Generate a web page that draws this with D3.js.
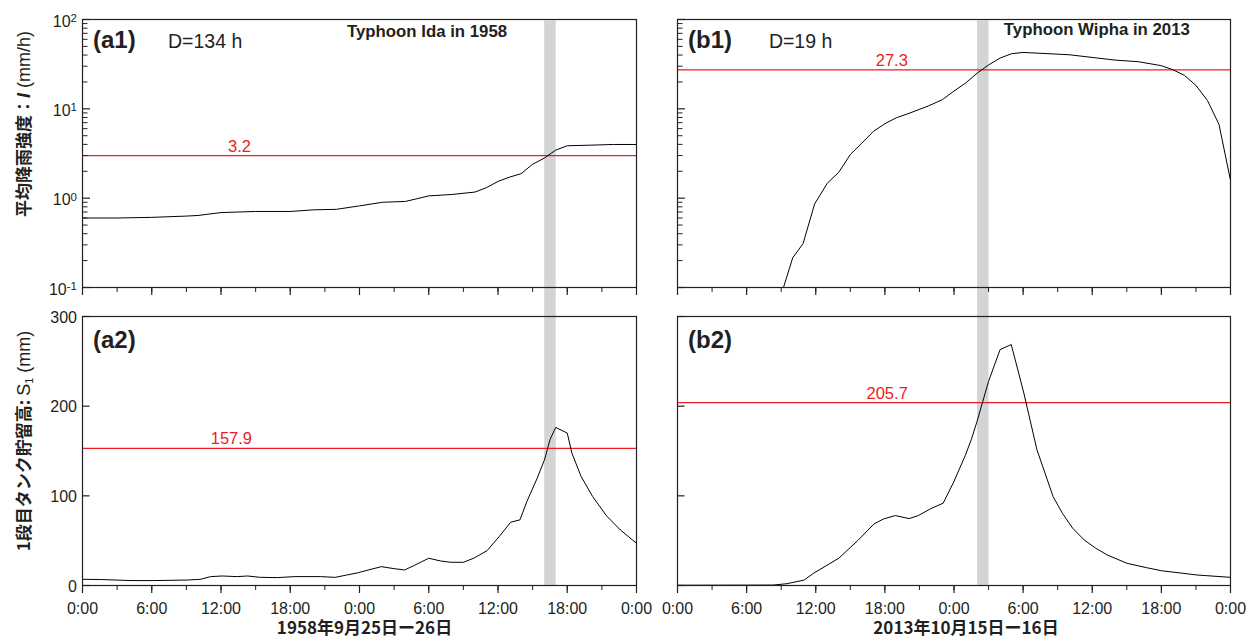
<!DOCTYPE html>
<html><head><meta charset="utf-8">
<script src="https://cdn.jsdelivr.net/npm/d3@7"></script>
<style>
body{margin:0;background:#fff;}
svg{display:block;font-family:"Liberation Sans",Arial,sans-serif;}
</style>
</head><body>
<svg id="chart" width="1250" height="639"></svg>
<script>
// ---------------- data ----------------
const hourMajorTicks = [0, 6, 12, 18, 24, 30, 36, 42, 48];
const hourMinorTicks = [0, 3, 6, 9, 12, 15, 18, 21, 24, 27, 30, 33, 36, 39, 42, 45, 48];
const hourTickLabels = ["0:00", "6:00", "12:00", "18:00", "0:00", "6:00", "12:00", "18:00", "0:00"];

const rainMajorTicks = [0.1, 1, 10, 100];
const rainTickExponents = ["-1", "0", "1", "2"];
const storageTicks = [0, 100, 200, 300];
const storageTickLabels = ["0", "100", "200", "300"];

// (a1) Typhoon Ida 1958, mean rainfall intensity (mm/h)
const a1Hours = [0, 3, 6, 9, 10, 12, 15, 18, 20, 22, 24, 26, 28, 30, 32, 34, 35, 36, 37, 38, 39, 40, 41, 42, 44, 46, 48];
const a1Rain  = [0.60, 0.60, 0.61, 0.63, 0.64, 0.69, 0.71, 0.71, 0.74, 0.75, 0.82, 0.90, 0.92, 1.06, 1.10, 1.17, 1.31, 1.54, 1.72, 1.88, 2.40, 2.80, 3.45, 3.86, 3.92, 3.99, 3.99];

// (b1) Typhoon Wipha 2013, mean rainfall intensity (mm/h)
const b1Hours = [9.2, 10, 10.9, 11.9, 13, 14, 15, 16, 17, 18, 19, 20, 21.8, 23, 24, 25, 26, 27, 28, 29, 30, 34, 38, 40, 42, 43, 44, 45, 46, 47, 48];
const b1Rain  = [0.1, 0.215, 0.31, 0.86, 1.47, 1.95, 3.08, 4.13, 5.58, 6.81, 7.95, 8.81, 10.8, 12.7, 15.8, 19.4, 25.0, 31.0, 37.0, 41.4, 42.8, 40.3, 35.1, 33.7, 30.4, 27.4, 23.7, 18.3, 12.4, 6.7, 1.58];

// (a2) first tank storage S1 (mm), 1958
const a2Hours   = [0, 1.5, 4.2, 6.2, 9.1, 10.2, 11.1, 12.1, 13.4, 14.3, 15.4, 16.9, 18.4, 20.6, 21.9, 22.9, 23.9, 25, 25.9, 27, 27.9, 28.7, 30, 31, 31.9, 33, 33.9, 35.06, 36.1, 37.1, 37.9, 38.5, 39.4, 40.05, 40.5, 41, 42, 42.4, 43.2, 44.2, 45.4, 46.6, 48];
const a2Storage = [6.9, 6.7, 5.5, 5.5, 6.1, 6.9, 9.9, 10.6, 9.9, 10.6, 9.1, 8.8, 9.9, 9.9, 9.1, 11.7, 14.3, 18.1, 21.0, 18.8, 17.3, 22.1, 30.4, 27.4, 25.9, 25.9, 30.4, 38.9, 54.5, 70.6, 73.2, 93.6, 119.8, 141, 162.6, 176.3, 170, 147.7, 121.6, 99.2, 77.7, 62, 47.1];

// (b2) first tank storage S1 (mm), 2013
const b2Hours   = [0, 8.3, 9.5, 11, 11.8, 14, 15.7, 17.06, 17.9, 18.9, 20.1, 20.9, 21.95, 23.06, 23.97, 24.98, 25.5, 26, 27, 28, 28.97, 30.06, 31.2, 31.9, 32.6, 33.4, 34.3, 35.3, 36.3, 37.3, 39, 40.7, 42, 45.1, 48];
const b2Storage = [0.3, 0.5, 2.0, 6.1, 13.6, 30.4, 50.8, 68.7, 74.3, 78, 74.6, 78, 85.5, 91.8, 115.3, 145, 162.6, 183, 227.7, 263.1, 268.7, 214.7, 151.4, 125.3, 99.2, 80.7, 63.9, 50.8, 41.6, 34.1, 24.8, 19.9, 16.5, 11.7, 9.1];

const rainThresholds = [3.0, 27.3];
const rainThresholdLabels = ["3.2", "27.3"];
const storageThresholds = [153, 204];
const storageThresholdLabels = ["157.9", "205.7"];
const peakWindowStart = [40, 26];
const peakWindowEnd = [41, 27];

const topTags = ["(a1)", "(b1)"];
const bottomTags = ["(a2)", "(b2)"];
const durationLabels = ["D=134 h", "D=19 h"];
const typhoonNames = ["Typhoon Ida in 1958", "Typhoon Wipha in 2013"];
const dateTitles = ["1958年9月25日ー26日", "2013年10月15日ー16日"];

// ---------------- layout ----------------
const colX = [[82.5, 636.5], [677.5, 1230.5]];
const topY = [19.5, 287.5];
const botY = [316.5, 585.5];
const RED = "#ec1c24";
const AX = "#231f20";
const CJK = "'Noto Sans CJK JP','Liberation Sans',sans-serif";
const LAT = "'Liberation Sans',Arial,sans-serif";

const svg = d3.select("#chart");
const defs = svg.append("defs");

const rainSeries = [a1Hours.map((h, i) => ({h, v: a1Rain[i]})), b1Hours.map((h, i) => ({h, v: b1Rain[i]}))];
const storSeries = [a2Hours.map((h, i) => ({h, v: a2Storage[i]})), b2Hours.map((h, i) => ({h, v: b2Storage[i]}))];

const thrLabelHourTop = [13.6, 18.6];
const thrLabelHourBot = [12.9, 18.2];
const durX = [85.5, 91.4];
const nameX = [347, 1003.8];
const nameBase = [36.7, 35];
const dateCenter = [364.5, 966];

for (let c = 0; c < 2; c++) {
  const x = d3.scaleLinear().domain([0, 48]).range(colX[c]);
  const yTop = d3.scaleLog().domain([0.1, 100]).range([topY[1], topY[0]]);
  const yBot = d3.scaleLinear().domain([0, 300]).range([botY[1], botY[0]]);

  // peak window band (spans both panels)
  svg.append("rect")
    .attr("x", x(peakWindowStart[c]))
    .attr("width", x(peakWindowEnd[c]) - x(peakWindowStart[c]))
    .attr("y", topY[0] + 1)
    .attr("height", botY[1] - topY[0] - 1)
    .attr("fill", "#d3d4d6");

  const panels = [
    {y: yTop, rng: topY, data: rainSeries[c], thr: rainThresholds[c], thrLab: rainThresholdLabels[c], labH: thrLabelHourTop[c], id: "t" + c, log: true},
    {y: yBot, rng: botY, data: storSeries[c], thr: storageThresholds[c], thrLab: storageThresholdLabels[c], labH: thrLabelHourBot[c], id: "b" + c, log: false}
  ];

  panels.forEach((p, r) => {
    defs.append("clipPath").attr("id", "clip" + p.id)
      .append("rect").attr("x", colX[c][0]).attr("y", p.rng[0])
      .attr("width", colX[c][1] - colX[c][0]).attr("height", p.rng[1] - p.rng[0]);

    const g = svg.append("g");

    // threshold line
    g.append("line")
      .attr("x1", colX[c][0]).attr("x2", colX[c][1])
      .attr("y1", p.y(p.thr)).attr("y2", p.y(p.thr))
      .attr("stroke", RED).attr("stroke-width", 1.3);
    g.append("text")
      .attr("x", x(p.labH)).attr("y", p.y(p.thr) - 4)
      .attr("text-anchor", "middle").attr("font-size", 16.5).attr("fill", RED)
      .text(p.thrLab);

    // data line
    g.append("path")
      .datum(p.data)
      .attr("clip-path", "url(#clip" + p.id + ")")
      .attr("fill", "none").attr("stroke", "#000").attr("stroke-width", 1)
      .attr("stroke-linejoin", "round")
      .attr("d", d3.line().x(d => x(d.h)).y(d => p.y(d.v)));

    // frame
    g.append("rect")
      .attr("x", colX[c][0]).attr("y", p.rng[0])
      .attr("width", colX[c][1] - colX[c][0]).attr("height", p.rng[1] - p.rng[0])
      .attr("fill", "none").attr("stroke", AX).attr("stroke-width", 1.2);

    // x ticks (outward)
    const xa = g.append("g");
    xa.selectAll("line.minor").data(hourMinorTicks).enter().append("line")
      .attr("x1", d => x(d)).attr("x2", d => x(d))
      .attr("y1", p.rng[1]).attr("y2", p.rng[1] + 4.5)
      .attr("stroke", AX).attr("stroke-width", 1);
    xa.selectAll("line.major").data(hourMajorTicks).enter().append("line")
      .attr("x1", d => x(d)).attr("x2", d => x(d))
      .attr("y1", p.rng[1]).attr("y2", p.rng[1] + 7.5)
      .attr("stroke", AX).attr("stroke-width", 1.2);
    if (r === 1) {
      xa.selectAll("text").data(hourMajorTicks).enter().append("text")
        .attr("x", d => x(d)).attr("y", 613.5)
        .attr("text-anchor", "middle").attr("font-size", 16).attr("fill", AX)
        .text((d, i) => hourTickLabels[i]);
    }

    // y ticks (inward)
    const ya = g.append("g");
    const x0 = colX[c][0];
    if (p.log) {
      const minor = p.y.ticks().filter(v => rainMajorTicks.indexOf(v) < 0);
      ya.selectAll("line.minor").data(minor).enter().append("line")
        .attr("x1", x0).attr("x2", x0 + 5)
        .attr("y1", d => p.y(d)).attr("y2", d => p.y(d))
        .attr("stroke", AX).attr("stroke-width", 1);
      ya.selectAll("line.major").data(rainMajorTicks).enter().append("line")
        .attr("x1", x0).attr("x2", x0 + 7.5)
        .attr("y1", d => p.y(d)).attr("y2", d => p.y(d))
        .attr("stroke", AX).attr("stroke-width", 1.2);
      if (c === 0) {
        rainMajorTicks.forEach((v, i) => {
          const t = ya.append("text").attr("x", 77).attr("y", p.y(v) + 7)
            .attr("text-anchor", "end").attr("font-size", 16).attr("fill", AX);
          t.append("tspan").text("10");
          t.append("tspan").attr("font-size", 11.5).attr("dy", -4.5).text(rainTickExponents[i]);
        });
      }
    } else {
      ya.selectAll("line.major").data(storageTicks).enter().append("line")
        .attr("x1", x0).attr("x2", x0 + 7)
        .attr("y1", d => p.y(d)).attr("y2", d => p.y(d))
        .attr("stroke", AX).attr("stroke-width", 1.2);
      if (c === 0) {
        ya.selectAll("text").data(storageTicks).enter().append("text")
          .attr("x", 77).attr("y", d => p.y(d) + 6)
          .attr("text-anchor", "end").attr("font-size", 16).attr("fill", AX)
          .text((d, i) => storageTickLabels[i]);
      }
    }

    // panel tag
    g.append("text")
      .attr("x", colX[c][0] + 10.5).attr("y", r === 0 ? p.rng[0] + 28 : p.rng[0] + 31.5)
      .attr("font-size", 24).attr("font-weight", "bold").attr("fill", AX)
      .text(r === 0 ? topTags[c] : bottomTags[c]);
  });

  // duration & typhoon name
  svg.append("text").attr("x", colX[c][0] + durX[c]).attr("y", 48)
    .attr("font-size", 19.5).attr("fill", AX).text(durationLabels[c]);
  svg.append("text").attr("x", nameX[c]).attr("y", nameBase[c])
    .attr("font-size", 16.8).attr("font-weight", "bold").attr("fill", AX).text(typhoonNames[c]);

  // date titles
  svg.append("text").attr("x", dateCenter[c]).attr("y", 634)
    .attr("text-anchor", "middle").attr("font-size", 17).attr("font-weight", "bold")
    .attr("font-family", CJK).attr("fill", AX).text(dateTitles[c]);
}

// y-axis titles
const t1 = svg.append("text")
  .attr("transform", "translate(30,124) rotate(-90)")
  .attr("text-anchor", "middle").attr("font-size", 17).attr("fill", AX)
  .attr("font-family", CJK);
t1.append("tspan").attr("font-weight", "bold").text("平均降雨強度：");
t1.append("tspan").attr("font-weight", "bold").attr("font-style", "italic")
  .attr("font-family", LAT).attr("font-size", 18).text("I");
t1.append("tspan").attr("font-family", LAT).attr("font-size", 18).text("  (mm/h)");

const t2 = svg.append("text")
  .attr("transform", "translate(30,441) rotate(-90)")
  .attr("text-anchor", "middle").attr("font-size", 17).attr("fill", AX)
  .attr("font-family", CJK);
t2.append("tspan").attr("font-weight", "bold").text("1段目タンク貯留高: ");
t2.append("tspan").attr("font-family", LAT).attr("font-size", 18).text("S");
t2.append("tspan").attr("font-family", LAT)
  .attr("font-size", 11).attr("dy", 3).text("1");
t2.append("tspan").attr("font-family", LAT).attr("font-size", 18)
  .attr("dy", -3).text("  (mm)");
</script>
</body></html>
